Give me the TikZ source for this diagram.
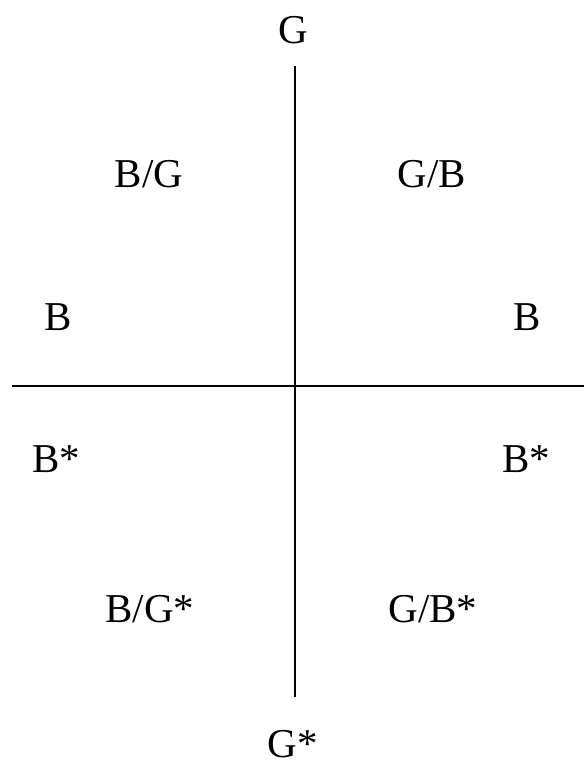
\documentclass[tikz,border=0pt]{standalone}
\usepackage{fontspec}
\setmainfont{Liberation Serif}
\begin{document}
\begin{tikzpicture}[x=1pt,y=-1pt,
  lbl/.style={anchor=base,inner sep=0pt,text depth=0pt,font=\fontsize{41}{48}\selectfont},
  axis/.style={line width=1.2pt,black}]
\useasboundingbox (0,0) rectangle (584,761);
\coordinate (vt) at (295,66);
\coordinate (vb) at (295,697);
\coordinate (hl) at (12,386);
\coordinate (hr) at (584,386);
\draw[axis] (vt) -- (vb);
\draw[axis] (hl) -- (hr);
\node[lbl] (g) at (293,43) {G};
\node[lbl] (bg) at (149,187) {B/G};
\node[lbl] (gb) at (432,187) {G/B};
\node[lbl] (bl) at (58,330) {B};
\node[lbl] (br) at (527,330) {B};
\node[lbl] (bsl) at (56,472) {B*};
\node[lbl] (bsr) at (526,472) {B*};
\node[lbl] (bgs) at (150,622) {B/G*};
\node[lbl] (gbs) at (433,622) {G/B*};
\node[lbl] (gs) at (293,757) {G*};
\end{tikzpicture}
\end{document}
